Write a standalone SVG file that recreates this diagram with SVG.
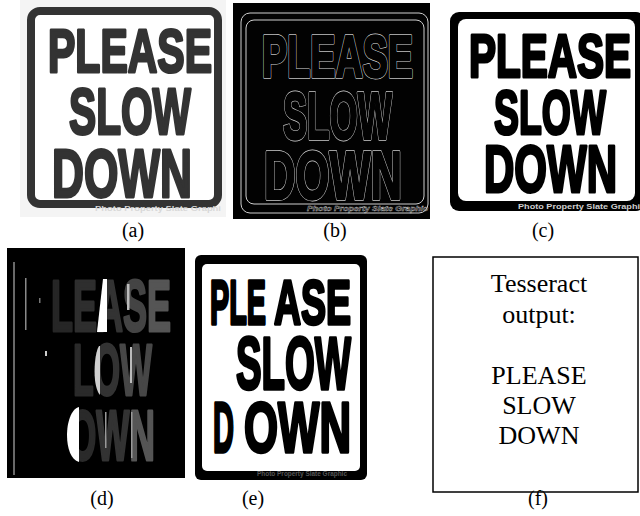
<svg xmlns="http://www.w3.org/2000/svg" width="640" height="516" viewBox="0 0 640 516">
<style>
.sign{font-family:"Liberation Sans",Arial,sans-serif;font-weight:bold;stroke-linejoin:round;}
.sa{fill:#333;stroke:#333;stroke-width:3;}
.sc{fill:#000;stroke:#000;stroke-width:3.2;}
.sb1{fill:none;stroke:#d4d4d4;stroke-width:3.8;}
.sb2{fill:#000;stroke:#000;stroke-width:2.6;}
.se{fill:#000;stroke:#000;stroke-width:3.4;}
.sd{stroke-width:3;}
.lab{font-family:"Liberation Serif","Times New Roman",serif;font-size:20px;fill:#000;text-anchor:middle;}
.out{font-family:"Liberation Serif","Times New Roman",serif;font-size:26px;fill:#000;text-anchor:middle;}
.foot{font-family:"Liberation Sans",Arial,sans-serif;font-weight:bold;font-size:7px;}
</style>
<rect width="640" height="516" fill="#fff"/>

<g id="panel-a">
<rect x="20" y="0" width="206" height="217" fill="#f4f4f4"/>
<rect x="31" y="11" width="187" height="193" rx="9" fill="#fff" stroke="#333" stroke-width="8"/>
<text class="sign sa" x="48" y="72" font-size="61" textLength="164" lengthAdjust="spacingAndGlyphs">PLEASE</text>
<text class="sign sa" x="69" y="134" font-size="65" textLength="122" lengthAdjust="spacingAndGlyphs">SLOW</text>
<text class="sign sa" x="52" y="197" font-size="68" textLength="140" lengthAdjust="spacingAndGlyphs">DOWN</text>
<text class="foot" x="95" y="211" fill="#d8d8d8" textLength="126" lengthAdjust="spacingAndGlyphs">Photo Property Slate Graphi</text>
<text class="lab" x="133" y="237">(a)</text>
</g>

<g id="panel-b" opacity="0.99">
<rect x="233" y="3" width="197" height="216" fill="#000"/>
<rect x="241" y="13" width="187" height="200" rx="9" fill="none" stroke="#cfcfcf" stroke-width="1"/>
<rect x="246" y="20" width="178" height="184" rx="8" fill="none" stroke="#cfcfcf" stroke-width="1"/>
<text class="sign sb1" x="262" y="77" font-size="60" textLength="151" lengthAdjust="spacingAndGlyphs">PLEASE</text>
<text class="sign sb1" x="283" y="139" font-size="67" textLength="109" lengthAdjust="spacingAndGlyphs">SLOW</text>
<text class="sign sb1" x="264" y="199" font-size="69" textLength="138" lengthAdjust="spacingAndGlyphs">DOWN</text>
<text class="sign sb2" x="262" y="77" font-size="60" textLength="151" lengthAdjust="spacingAndGlyphs">PLEASE</text>
<text class="sign sb2" x="283" y="139" font-size="67" textLength="109" lengthAdjust="spacingAndGlyphs">SLOW</text>
<text class="sign sb2" x="264" y="199" font-size="69" textLength="138" lengthAdjust="spacingAndGlyphs">DOWN</text>
<text class="foot" x="307" y="211" fill="none" stroke="#bbb" stroke-width="0.4" font-style="italic" textLength="121" lengthAdjust="spacingAndGlyphs">Photo Property Slate Graphic</text>
</g>
<text class="lab" x="335" y="237">(b)</text>

<g id="panel-c">
<rect x="450" y="12" width="195" height="199" rx="9" fill="#000"/>
<rect x="458" y="19" width="177" height="182" rx="8" fill="#fff"/>
<text class="sign sc" x="469" y="77" font-size="61" textLength="162" lengthAdjust="spacingAndGlyphs">PLEASE</text>
<text class="sign sc" x="494" y="134" font-size="63" textLength="112" lengthAdjust="spacingAndGlyphs">SLOW</text>
<text class="sign sc" x="484" y="192" font-size="67" textLength="133" lengthAdjust="spacingAndGlyphs">DOWN</text>
<text class="foot" x="518" y="209" fill="#cfcfcf" textLength="122" lengthAdjust="spacingAndGlyphs">Photo Property Slate Graphi</text>
<text class="lab" x="543" y="237">(c)</text>
</g>

<g id="panel-d">
<rect x="7" y="248" width="178" height="230" fill="#000"/>
<line x1="14" y1="262" x2="14" y2="475" stroke="#b0b0b0" stroke-width="1.2"/>
<rect x="25" y="278" width="1.5" height="52" fill="#8a8a8a"/>
<rect x="39" y="298" width="1.5" height="5" fill="#777"/>
<text class="sign sd" x="51" y="331" font-size="72" textLength="120" lengthAdjust="spacingAndGlyphs"><tspan fill="#262626" stroke="#262626">L</tspan><tspan fill="#2e2e2e" stroke="#2e2e2e">E</tspan><tspan fill="#333" stroke="#333">A</tspan><tspan fill="#444" stroke="#444">S</tspan><tspan fill="#555" stroke="#555">E</tspan></text>
<polygon points="97,332 103,279 107,279 107,332" fill="#fff"/>
<rect x="127" y="284" width="2.5" height="26" fill="#bbb"/>
<text class="sign sd" x="73" y="395" font-size="72" textLength="79" lengthAdjust="spacingAndGlyphs"><tspan fill="#2a2a2a" stroke="#2a2a2a">L</tspan><tspan fill="#333" stroke="#333">O</tspan><tspan fill="#474747" stroke="#474747">W</tspan></text>
<path d="M99,346 C95,352 94,370 95,380 C96,388 98,393 100,395 L100,346 Z" fill="#cfcfcf"/>
<rect x="130" y="347" width="2" height="36" fill="#bbb"/>
<rect x="45" y="351" width="2" height="5" fill="#ccc"/>
<text class="sign sd" x="69" y="460" font-size="71" textLength="86" lengthAdjust="spacingAndGlyphs"><tspan fill="#2a2a2a" stroke="#2a2a2a">O</tspan><tspan fill="#333" stroke="#333">W</tspan><tspan fill="#555" stroke="#555">N</tspan></text>
<path d="M79,407 C71,409 67,423 67,435 C67,448 71,460 79,462 Z" fill="#fff"/>
<rect x="105" y="412" width="1.5" height="36" fill="#999"/>
<rect x="131" y="412" width="1.5" height="46" fill="#999"/>
<text class="lab" x="102" y="505">(d)</text>
</g>

<g id="panel-e">
<rect x="195" y="255" width="172" height="225" rx="6" fill="#000"/>
<rect x="202" y="264" width="158" height="207" rx="5" fill="#fff"/>
<text class="sign se" x="210" y="324" font-size="63" textLength="56" lengthAdjust="spacingAndGlyphs">PLE</text>
<text class="sign se" x="274" y="324" font-size="63" textLength="77" lengthAdjust="spacingAndGlyphs">ASE</text>
<text class="sign se" x="236" y="389" font-size="74" textLength="115" lengthAdjust="spacingAndGlyphs">SLOW</text>
<text class="sign se" x="213" y="452" font-size="71" textLength="21" lengthAdjust="spacingAndGlyphs">D</text>
<text class="sign se" x="244" y="452" font-size="71" textLength="107" lengthAdjust="spacingAndGlyphs">OWN</text>
<text class="foot" x="257" y="476" fill="#555" font-size="6" textLength="90" lengthAdjust="spacingAndGlyphs">Photo Property Slate Graphic</text>
<text class="lab" x="253" y="505">(e)</text>
</g>

<g id="panel-f">
<rect x="433" y="257" width="205" height="235" fill="#fff" stroke="#000" stroke-width="1.5"/>
<text class="out" x="539" y="292">Tesseract</text>
<text class="out" x="539" y="323">output:</text>
<text class="out" x="539" y="384">PLEASE</text>
<text class="out" x="539" y="414">SLOW</text>
<text class="out" x="539" y="444">DOWN</text>
<text class="lab" x="538" y="505">(f)</text>
</g>
</svg>
